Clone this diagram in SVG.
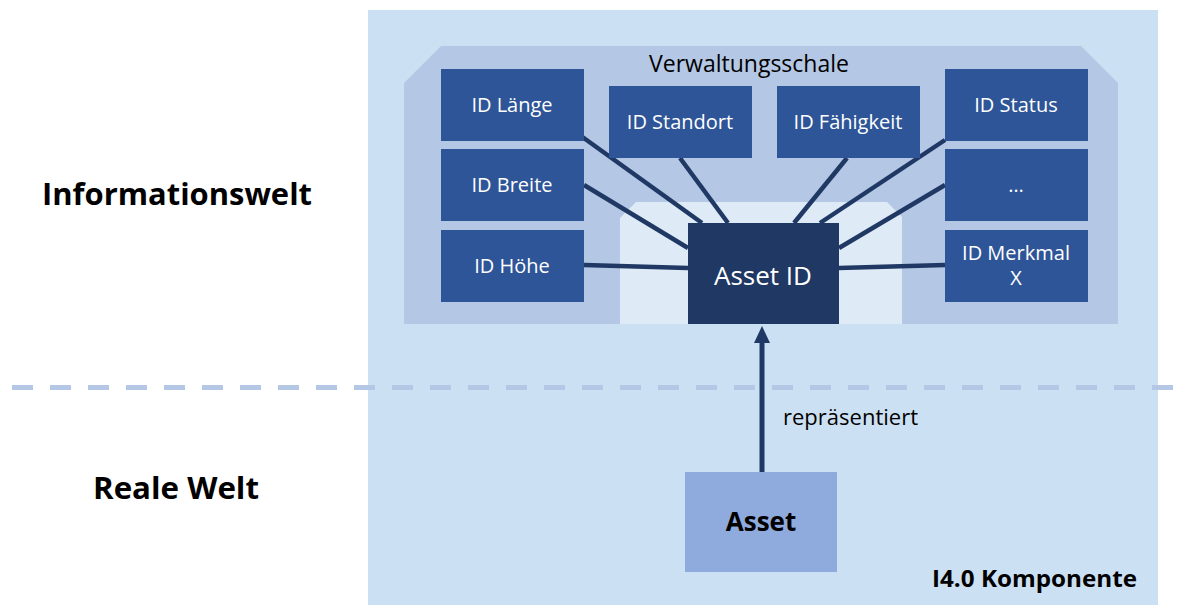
<svg xmlns="http://www.w3.org/2000/svg" width="1177" height="605" viewBox="0 0 1177 605">
<defs>
<style>
.t{font-family:"Open Sans","Noto Sans","DejaVu Sans",sans-serif;}
.box{fill:#2e5597;}
.bt{fill:#ffffff;font-size:20px;text-anchor:middle;}
.con{stroke:#1f3864;stroke-width:4.5;fill:none;}
</style>
<marker id="ah" markerWidth="17" markerHeight="16" refX="1" refY="8" orient="auto" markerUnits="userSpaceOnUse" viewBox="0 0 17 16">
<path d="M0,0 L17,8 L0,16 Z" fill="#1f3864"/>
</marker>
</defs>
<rect width="1177" height="605" fill="#ffffff"/>
<g id="komponente">
<rect x="368" y="10" width="790" height="595" fill="#cce0f3"/>
<text class="t" x="1137" y="587" font-size="23" font-weight="bold" text-anchor="end" fill="#000" textLength="205" lengthAdjust="spacingAndGlyphs">I4.0 Komponente</text>
</g>
<g id="verwaltungsschale">
<polygon points="441,46 1081,46 1118,83 1118,324 404,324 404,83" fill="#b4c7e4"/>
<polygon points="636,202 887,202 902,217 902,324 620,324 620,218" fill="#deebf6"/>
<text class="t" x="749" y="72" font-size="23" text-anchor="middle" fill="#000">Verwaltungsschale</text>
</g>
<line x1="12" y1="387.5" x2="1177" y2="387.5" stroke="#b4c7e4" stroke-width="5" stroke-dasharray="21,17"/>
<text class="t" x="177" y="205" font-size="30" font-weight="bold" text-anchor="middle" fill="#000" textLength="270" lengthAdjust="spacingAndGlyphs">Informationswelt</text>
<text class="t" x="176" y="499" font-size="30" font-weight="bold" text-anchor="middle" fill="#000" textLength="166" lengthAdjust="spacingAndGlyphs">Reale Welt</text>
<g id="connectors">
<line class="con" x1="581" y1="136" x2="702" y2="223"/>
<line class="con" x1="584" y1="185" x2="688" y2="248"/>
<line class="con" x1="584" y1="265" x2="688" y2="268"/>
<line class="con" x1="680" y1="158" x2="728" y2="223"/>
<line class="con" x1="847" y1="158" x2="794" y2="223"/>
<line class="con" x1="945" y1="140" x2="820" y2="223"/>
<line class="con" x1="945" y1="185" x2="839" y2="248"/>
<line class="con" x1="945" y1="265" x2="839" y2="268"/>
<line x1="762" y1="472" x2="762" y2="342" stroke="#1f3864" stroke-width="5" marker-end="url(#ah)"/>
<text class="t" x="783" y="425" font-size="21" fill="#000" textLength="135" lengthAdjust="spacingAndGlyphs">repräsentiert</text>
</g>
<g id="id-laenge"><rect class="box" x="441" y="69" width="143" height="72"/><text class="t bt" x="512" y="112">ID Länge</text></g>
<g id="id-breite"><rect class="box" x="441" y="149" width="143" height="72"/><text class="t bt" x="512" y="192">ID Breite</text></g>
<g id="id-hoehe"><rect class="box" x="441" y="230" width="143" height="72"/><text class="t bt" x="512" y="273">ID Höhe</text></g>
<g id="id-standort"><rect class="box" x="609" y="86" width="143" height="72"/><text class="t bt" x="680" y="129">ID Standort</text></g>
<g id="id-faehigkeit"><rect class="box" x="777" y="86" width="143" height="72"/><text class="t bt" x="848" y="129">ID Fähigkeit</text></g>
<g id="id-status"><rect class="box" x="945" y="69" width="143" height="72"/><text class="t bt" x="1016" y="112">ID Status</text></g>
<g id="id-more"><rect class="box" x="945" y="149" width="143" height="72"/><text class="t bt" x="1016" y="192">…</text></g>
<g id="id-merkmal"><rect class="box" x="945" y="230" width="143" height="72"/><text class="t bt" x="1016" y="260">ID Merkmal</text><text class="t bt" x="1016" y="285">X</text></g>
<g id="asset-id"><rect x="688" y="223" width="151" height="101" fill="#1f3864"/><text class="t" x="763" y="285" font-size="26" fill="#fff" text-anchor="middle">Asset ID</text></g>
<g id="asset"><rect x="685" y="472" width="152" height="100" fill="#8faadc"/><text class="t" x="761" y="531" font-size="26" font-weight="bold" fill="#000" text-anchor="middle">Asset</text></g>
</svg>
